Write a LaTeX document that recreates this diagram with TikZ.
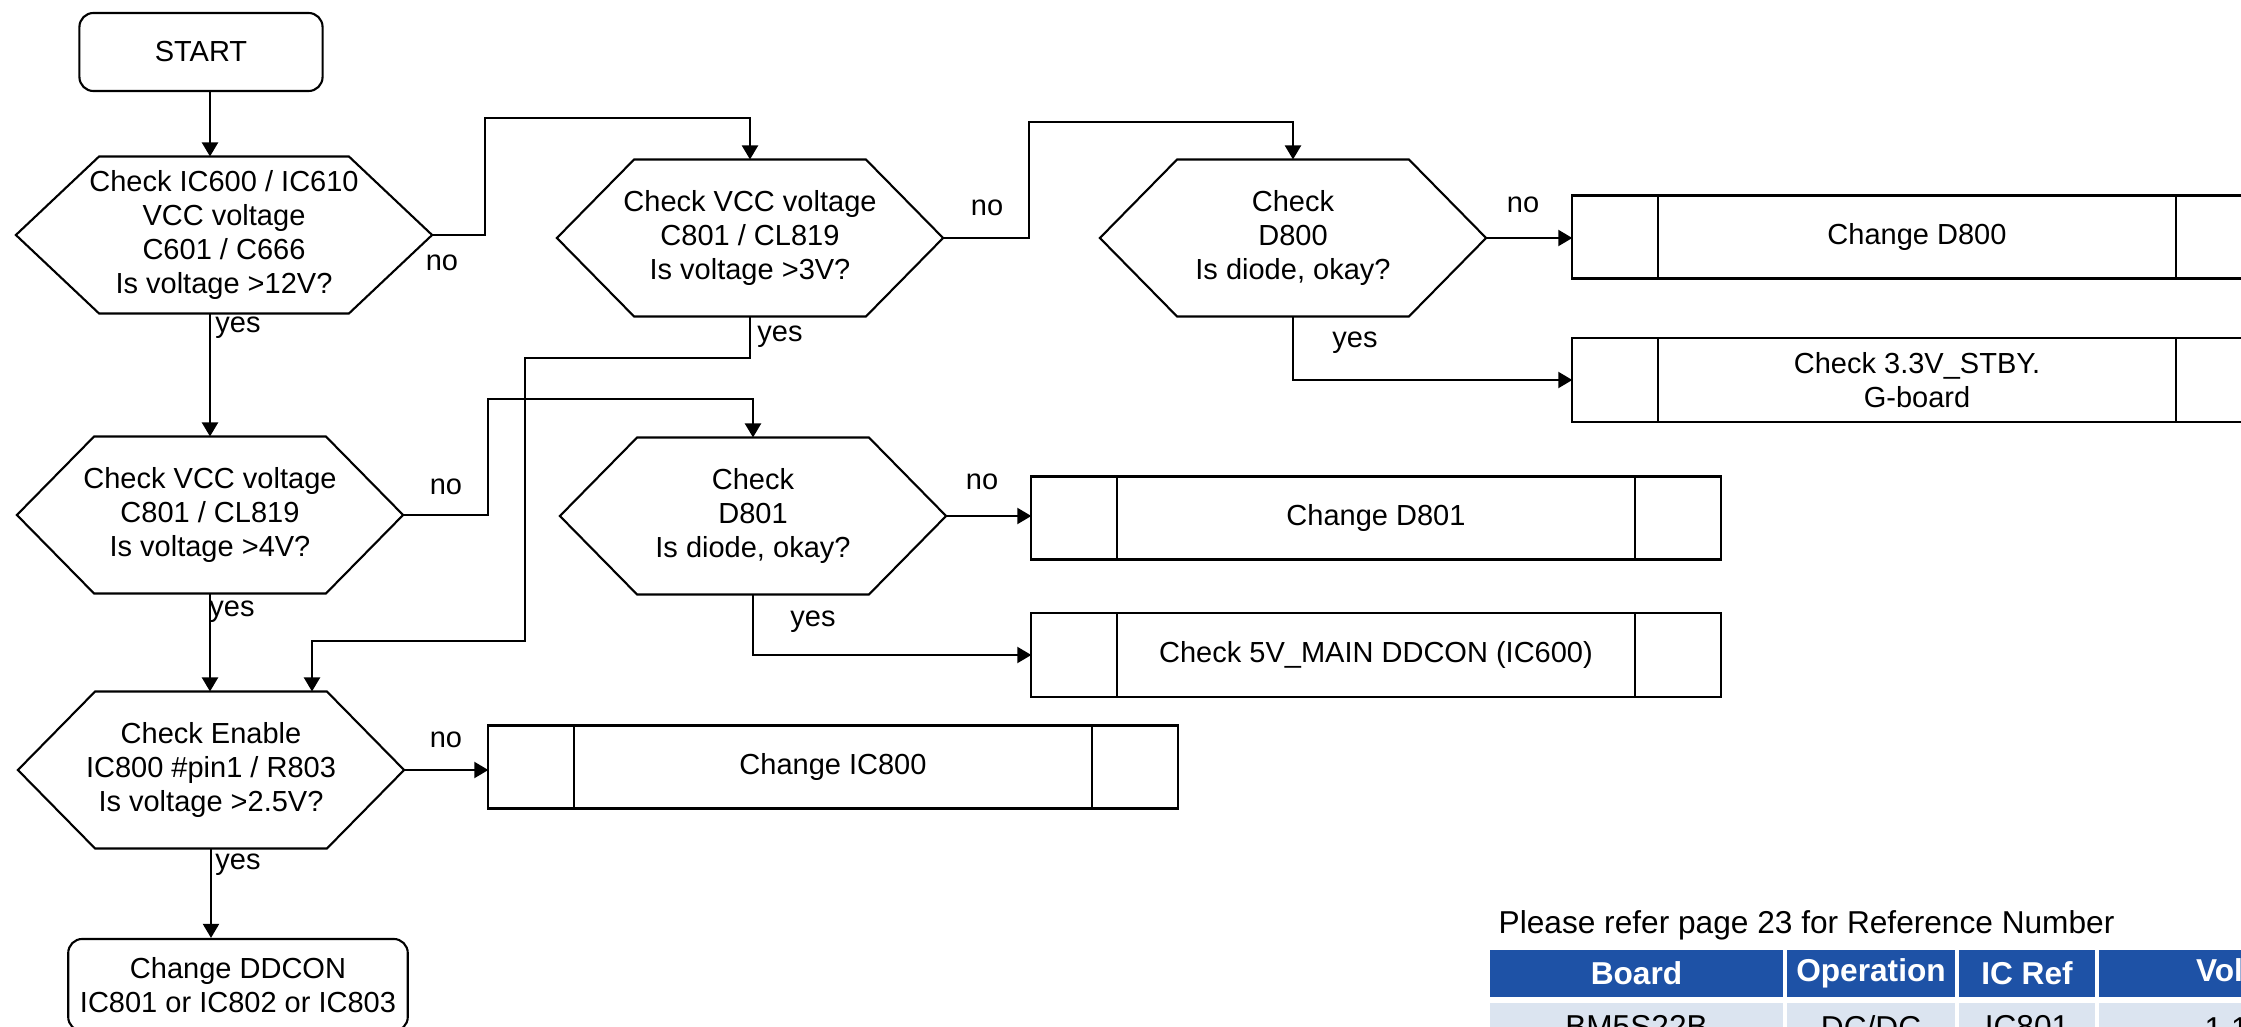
\documentclass[tikz,border=0pt]{standalone}
\usepackage{fontspec}
\setmainfont{Liberation Sans}
\usepackage{tikz}
\usetikzlibrary{calc}
\usetikzlibrary{arrows.meta}
\definecolor{hdrblue}{RGB}{30,82,166}
\definecolor{rowgray}{RGB}{219,228,240}

\begin{document}
\begin{tikzpicture}[x=0.01cm,y=-0.01cm]

		\tikzstyle{every node} = [font=\fontsize{8.25}{9.65}\selectfont]
		\tikzstyle{decision} = [rectangle, minimum width=3.86cm, minimum height=1.57cm, inner sep=0pt, outer sep=0pt, align=center]
		\tikzstyle{terminal} = [rectangle, rounded corners=0.14cm, draw, line width=0.6pt, minimum width=2.43cm, minimum height=0.78cm, align=center]
		\tikzstyle{process} = [rectangle, draw, line width=0.6pt, minimum width=6.89cm, minimum height=0.83cm, inner sep=0pt, outer sep=0pt, align=center]
		\tikzstyle{answer} = [inner sep=0pt]
		\tikzstyle{link} = [line width=0.6pt]
		\tikzstyle{flow} = [line width=0.6pt, -{Triangle[length=0.14cm,width=0.16cm]}]
		\tikzstyle{thead} = [fill=hdrblue, draw=white, line width=0.9pt, text=white, font=\fontsize{9}{11}\selectfont\bfseries, minimum height=0.51cm, inner sep=0pt, outer sep=0pt]
		\tikzstyle{tcell} = [fill=rowgray, draw=white, line width=0.9pt, font=\fontsize{9}{11}\selectfont, minimum height=0.51cm, inner sep=0pt, outer sep=0pt]

		\useasboundingbox (0,0) rectangle (2241,1027);

		\node [terminal](start) at (201,52) {START};
		\node [decision, minimum width=4.16cm](c600) at (224,235) {Check IC600 / IC610\\VCC voltage\\C601 / C666\\Is voltage >12V?};
		\node [decision](vcc3) at (750,238) {Check VCC voltage\\C801 / CL819\\Is voltage >3V?};
		\node [decision](d800) at (1293,238) {Check\\D800\\Is diode, okay?};
		\node [decision](vcc4) at (210,515) {Check VCC voltage\\C801 / CL819\\Is voltage >4V?};
		\node [decision](d801) at (753,516) {Check\\D801\\Is diode, okay?};
		\node [decision](enable) at (211,770) {Check Enable\\IC800 \#pin1 / R803\\Is voltage >2.5V?};
		\node [terminal, minimum width=3.39cm, minimum height=0.92cm](ddcon) at (238,985) {Change DDCON\\IC801 or IC802 or IC803};

		\node [process](chd800) at (1917,237) {Change D800};
		\node [process, minimum height=0.84cm](stby) at (1917,380) {Check 3.3V\_STBY.\\G-board};
		\node [process](chd801) at (1376,518) {Change D801};
		\node [process, minimum height=0.84cm](main5v) at (1376,655) {Check 5V\_MAIN DDCON (IC600)};
		\node [process](chic800) at (833,767) {Change IC800};

		\foreach \h in {c600,vcc3,d800,vcc4,d801,enable}
			\draw [link] (\h.west) -- ($(\h.north west)!0.2!(\h.north east)$) -- ($(\h.north west)!0.8!(\h.north east)$) -- (\h.east) -- ($(\h.south west)!0.8!(\h.south east)$) -- ($(\h.south west)!0.2!(\h.south east)$) -- cycle;
		\foreach \p in {chd800,stby,chd801,main5v,chic800}
			\draw [link] ([xshift=0.86cm]\p.north west) -- ([xshift=0.86cm]\p.south west)
				([xshift=-0.86cm]\p.north east) -- ([xshift=-0.86cm]\p.south east);

		\coordinate (jn) at (312,641);
		\draw [flow] (start.south -| vcc4.north) -- (c600.north -| vcc4.north);
		\draw [flow] (c600.east) -| (485,118) -| (vcc3.north);
		\draw [flow] (vcc3.east) -| (1029,122) -| (d800.north);
		\draw [flow] (d800.east) -- (d800.east -| chd800.west);
		\draw [flow] (d800.south) |- (stby.west);
		\draw [flow] (c600.south -| vcc4.north) -- (vcc4.north);
		\draw [flow] (vcc3.south) |- (525,358) |- (jn) -- (jn |- enable.north);
		\draw [flow] (vcc4.east) -| (488,399) -| (d801.north);
		\draw [flow] (vcc4.south) -- (vcc4.south |- enable.north);
		\draw [flow] (d801.east) -- (d801.east -| chd801.west);
		\draw [flow] (d801.south) |- (main5v.west);
		\draw [flow] (enable.east) -- (enable.east -| chic800.west);
		\draw [flow] (enable.south) -- (enable.south |- ddcon.north);

		\node [answer](no1) at (442,263) {no};
		\node [answer](yes1) at (238,328) {yes};
		\node [answer](no2) at (987,208) {no};
		\node [answer](yes2) at (780,337) {yes};
		\node [answer](no3) at (1523,205) {no};
		\node [answer](yes3) at (1355,343) {yes};
		\node [answer](no4) at (446,487) {no};
		\node [answer](yes4) at (232,612) {yes};
		\node [answer](no5) at (982,482) {no};
		\node [answer](yes5) at (813,622) {yes};
		\node [answer](no6) at (446,740) {no};
		\node [answer](yes6) at (238,865) {yes};

		\node [anchor=base west, inner sep=0pt, font=\fontsize{9}{11}\selectfont](note) at (1498,933) {Please refer page 23 for Reference Number};
		\node [thead, minimum width=2.97cm](hboard) at (1636.5,973.5) {Board};
		\node [thead, minimum width=1.72cm](hop) at (1871,973.5) {Operation};
		\node [thead, minimum width=1.40cm](hic) at (2027,973.5) {IC Ref};
		\node [thead, minimum width=3.10cm](hvolt) at (2252,973.5) {Voltage};
		\node [tcell, minimum width=2.97cm](rboard) at (1636.5,1027) {BM5S22B};
		\node [tcell, minimum width=1.72cm](rop) at (1871,1027) {DC/DC};
		\node [tcell, minimum width=1.40cm](ric) at (2027,1027) {IC801};
		\node [tcell, minimum width=3.10cm](rvolt) at (2252,1027) {};
		\node [anchor=base west, inner sep=0pt, font=\fontsize{9}{11}\selectfont](rv) at (2204,1039) {1.1};

	\end{tikzpicture}
\end{document}
